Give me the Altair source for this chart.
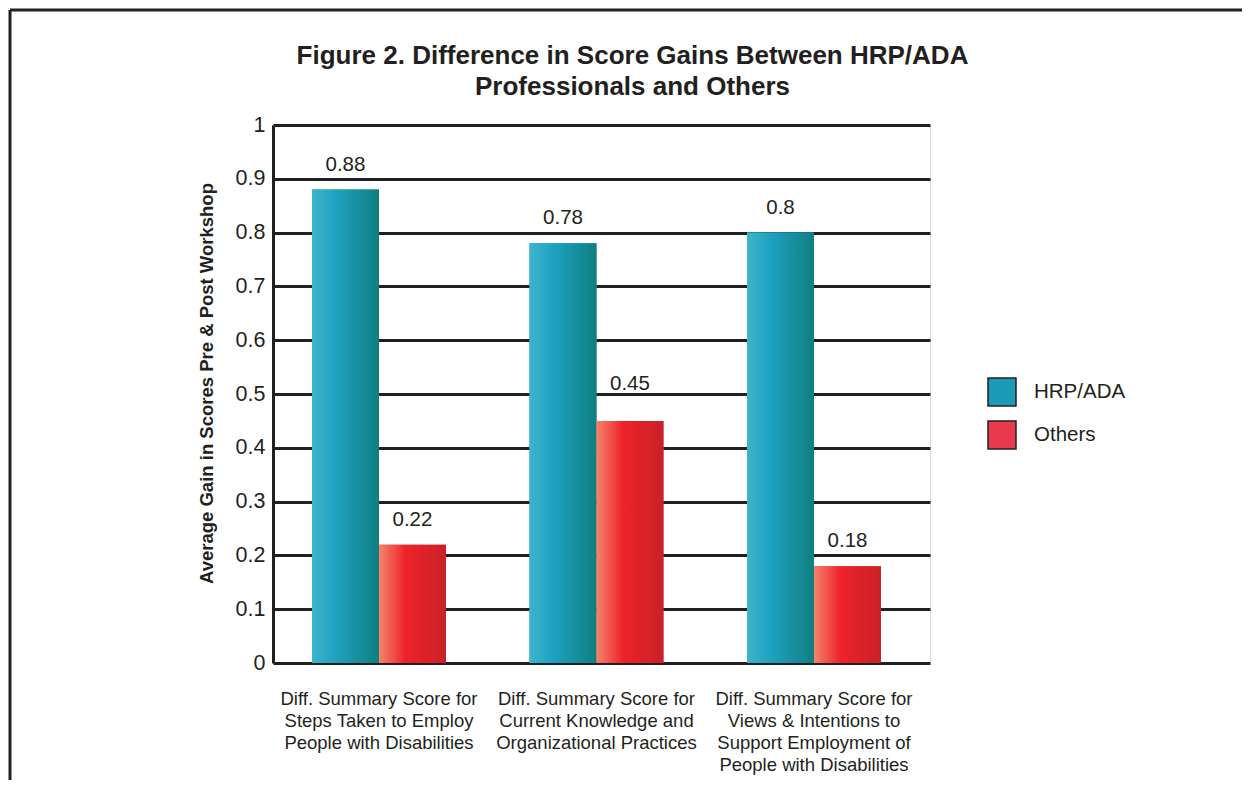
import altair as alt
import pandas as pd

categories = [
    "Diff. Summary Score for\nSteps Taken to Employ\nPeople with Disabilities",
    "Diff. Summary Score for\nCurrent Knowledge and\nOrganizational Practices",
    "Diff. Summary Score for\nViews & Intentions to\nSupport Employment of\nPeople with Disabilities",
]
series = ["HRP/ADA", "Others"]
hrp_values = [0.88, 0.78, 0.80]
others_values = [0.22, 0.45, 0.18]
y_ticks = [0, 0.1, 0.2, 0.3, 0.4, 0.5, 0.6, 0.7, 0.8, 0.9, 1]

rows = []
for c, h, o in zip(categories, hrp_values, others_values):
    rows.append({"category": c, "series": "HRP/ADA", "value": h})
    rows.append({"category": c, "series": "Others", "value": o})
df = pd.DataFrame(rows)

INK = "#231f20"
FONT = "Liberation Sans"

grad_hrp = {
    "gradient": "linear", "x1": 0, "x2": 1, "y1": 0, "y2": 0,
    "stops": [
        {"offset": 0, "color": "#3db4cc"},
        {"offset": 0.35, "color": "#1ea2c2"},
        {"offset": 1, "color": "#0f7f80"},
    ],
}
grad_oth = {
    "gradient": "linear", "x1": 0, "x2": 1, "y1": 0, "y2": 0,
    "stops": [
        {"offset": 0, "color": "#f4846a"},
        {"offset": 0.4, "color": "#ee2229"},
        {"offset": 1, "color": "#c92128"},
    ],
}

x_axis = alt.Axis(labelExpr="split(datum.label, '\\n')", labelAngle=0,
                  labelFontSize=18.5, labelColor=INK, labelFont=FONT, labelLimit=0,
                  labelLineHeight=22.3, labelPadding=26, ticks=False,
                  domain=False, grid=False, labelBaseline="top")
x_enc = alt.X(
    "category:N", sort=categories, title=None,
    scale=alt.Scale(paddingInner=0.384, paddingOuter=0.2023, align=0.443),
    axis=x_axis,
)
xo_enc = alt.XOffset("series:N", scale=alt.Scale(domain=series, paddingInner=0, paddingOuter=0))
y_scale = alt.Scale(domain=[0, 1], nice=False)
y_axis = alt.Axis(values=y_ticks, format="~g", grid=True, gridColor=INK, gridWidth=3,
                  gridOpacity=1, domainColor=INK, domainWidth=3, ticks=False,
                  labelFontSize=21.5, labelColor=INK, labelFont=FONT, labelPadding=8,
                  titleFontSize=18.5, titleFont=FONT, titleFontWeight="bold",
                  titleColor=INK, titlePadding=19, titleY=258)
y_enc = alt.Y("value:Q", title="Average Gain in Scores Pre & Post Workshop",
              scale=y_scale, axis=y_axis)

base = alt.Chart(df).encode(x=x_enc, xOffset=xo_enc, y=y_enc)

bars = base.mark_bar().encode(
    fill=alt.Fill(
        "series:N",
        scale=alt.Scale(domain=series, range=["#1b9bb6", "#ea3a4f"]),
        legend=alt.Legend(
            title=None, orient="none", legendX=714, legendY=252, padding=0,
            symbolType="square", symbolSize=784, symbolStrokeColor=INK,
            symbolStrokeWidth=1.5, symbolOpacity=1,
            labelFontSize=20.5, labelColor=INK, labelFont=FONT,
            labelOffset=17, rowPadding=9,
        ),
    )
)

over_hrp = base.transform_filter(alt.datum.series == "HRP/ADA").mark_bar(fill=grad_hrp)
over_oth = base.transform_filter(alt.datum.series == "Others").mark_bar(fill=grad_oth)

# value labels sit above the bar; a label that would cross a gridline is lifted above it
labels = alt.Chart(df).transform_calculate(
    base_pos="datum.value + 0.0353",
    lift="floor((datum.value + 0.062) * 10) / 10",
    label_pos="datum.lift > floor(datum.base_pos * 10) / 10 ? datum.lift + 0.0075 : datum.base_pos",
).mark_text(baseline="alphabetic", fontSize=20.5, font=FONT, color=INK).encode(
    x=alt.X("category:N", sort=categories, title=None, axis=x_axis),
    xOffset=alt.XOffset("series:N", scale=alt.Scale(domain=series)),
    y=alt.Y("label_pos:Q", scale=y_scale, title="Average Gain in Scores Pre & Post Workshop",
            axis=y_axis),
    text=alt.Text("value:Q"),
)

frame_df = pd.DataFrame({"k": [0]})
frame_top = alt.Chart(frame_df).mark_rule(color=INK, strokeWidth=3).encode(
    x=alt.value(-263), x2=alt.value(969), y=alt.value(-115)
)
frame_left = alt.Chart(frame_df).mark_rule(color=INK, strokeWidth=3).encode(
    x=alt.value(-263), y=alt.value(-115), y2=alt.value(655)
)

chart = alt.layer(bars, over_hrp, over_oth, labels, frame_top, frame_left).properties(
    width=657, height=538, padding=0,
    title=alt.Title(
        text=["Figure 2.  Difference in Score Gains Between HRP/ADA", "Professionals and Others"],
        fontSize=26, font=FONT, fontWeight="bold", color=INK, lineHeight=31,
        dx=31, offset=-91, anchor="middle",
    ),
).configure_view(stroke="transparent", strokeWidth=0).configure(font=FONT)

chart.save("out.html", embed_options={"renderer": "svg", "actions": False})
